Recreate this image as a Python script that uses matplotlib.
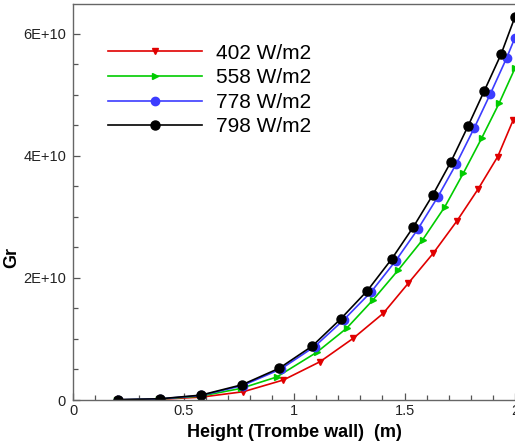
import matplotlib
matplotlib.use("Agg")
import matplotlib.pyplot as plt
from matplotlib.ticker import MultipleLocator, FuncFormatter

plt.rcParams['font.family'] = ['Liberation Sans', 'DejaVu Sans']

# points at the symbol positions
# height (m), Grashof number in units of 1E+10
h_402 = [0.20, 0.39, 0.58, 0.771, 0.952, 1.118, 1.268, 1.404, 1.517, 1.630,
         1.738, 1.834, 1.922, 1.992]
gr_402 = [0.003, 0.011, 0.047, 0.136, 0.328, 0.628, 1.011, 1.421, 1.913, 2.405,
          2.938, 3.462, 3.990, 4.590]

h_558 = [0.20, 0.39, 0.58, 0.76, 0.922, 1.103, 1.238, 1.357, 1.472, 1.583,
         1.683, 1.766, 1.849, 1.929, 2.0]
gr_558 = [0.002, 0.015, 0.065, 0.19, 0.377, 0.782, 1.175, 1.639, 2.131, 2.630,
          3.169, 3.716, 4.290, 4.870, 5.438]

h_778 = [0.205, 0.394, 0.58, 0.767, 0.94, 1.093, 1.225, 1.35, 1.46, 1.56,
         1.65, 1.735, 1.815, 1.888, 1.962, 2.0]
gr_778 = [0.004, 0.018, 0.075, 0.236, 0.507, 0.875, 1.314, 1.776, 2.281, 2.798,
          3.324, 3.875, 4.454, 5.014, 5.604, 5.94]

h_798 = [0.205, 0.394, 0.579, 0.765, 0.933, 1.083, 1.211, 1.332, 1.442, 1.540,
         1.628, 1.709, 1.787, 1.861, 1.937, 2.0]
gr_798 = [0.005, 0.020, 0.080, 0.250, 0.520, 0.885, 1.328, 1.792, 2.311, 2.836,
          3.361, 3.897, 4.485, 5.066, 5.667, 6.28]

labels = ['402 W/m2', '558 W/m2', '778 W/m2', '798 W/m2']
xs = [h_402, h_558, h_778, h_798]
ys = [gr_402, gr_558, gr_778, gr_798]
colors = ['#e00000', '#00cc00', '#3c3cff', '#000000']
markers = ['v', '>', 'o', 'o']
msizes = [5, 5, 6, 6.5]

fig = plt.figure(figsize=(5.15, 4.47), dpi=100)
ax = fig.add_axes([73/515, 47/447, 442/515, 396/447])

for x, y, lab, c, m, ms in zip(xs, ys, labels, colors, markers, msizes):
    ax.plot(x, y, color=c, lw=1.2, marker=m, ms=ms, label=lab)

ax.set_xlim(0, 2)
ax.set_ylim(0, 6.49)
ax.xaxis.set_major_locator(MultipleLocator(0.5))
ax.xaxis.set_minor_locator(MultipleLocator(0.1))
ax.yaxis.set_major_locator(MultipleLocator(2))
ax.yaxis.set_minor_locator(MultipleLocator(0.5))
ax.xaxis.set_major_formatter(FuncFormatter(lambda v, p: '0' if v == 0 else f'{v:g}'))
ax.yaxis.set_major_formatter(FuncFormatter(lambda v, p: '0' if v == 0 else f'{v:.0f}E+10'))

ax.tick_params(which='both', direction='in', colors='#555555', labelcolor='#222222',
               labelsize=10.5, width=0.9)
ax.tick_params(which='major', length=5)
ax.tick_params(which='minor', length=3.5)
ax.tick_params(axis='y', pad=5)
ax.tick_params(axis='x', pad=3)
for s in ['left', 'bottom', 'top']:
    ax.spines[s].set_color('#666666')
    ax.spines[s].set_linewidth(1.0)
ax.spines['right'].set_visible(False)

ax.set_xlabel('Height (Trombe wall)  (m)', fontsize=13, fontweight='bold', labelpad=4)
ax.set_ylabel('Gr', fontsize=13, fontweight='bold', va='center')
ax.yaxis.set_label_coords(-0.138, 0.361)

ax.legend(loc='upper left', bbox_to_anchor=(0.079, 0.9), frameon=False,
          fontsize=15, handlelength=4.5, handletextpad=0.7, labelspacing=0.27,
          borderpad=0, borderaxespad=0, numpoints=1)

fig.savefig('out.png', dpi=100)
